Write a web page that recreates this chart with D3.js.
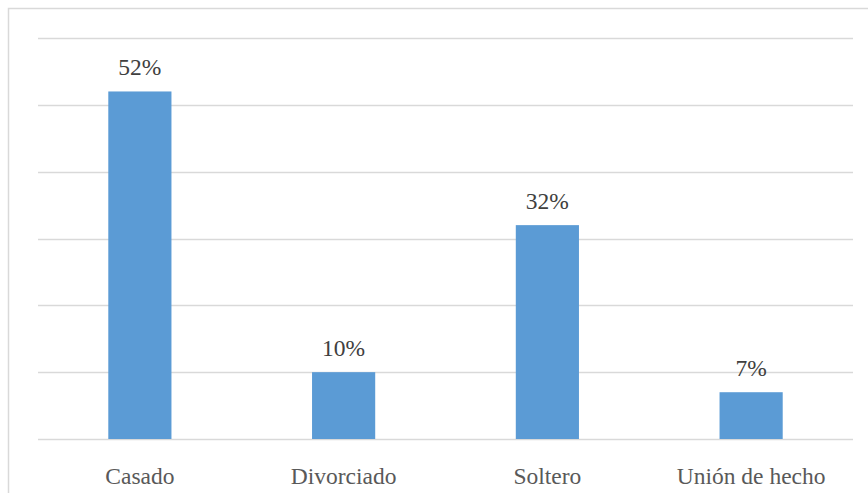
<!DOCTYPE html>
<html>
<head>
<meta charset="utf-8">
<script src="https://cdn.jsdelivr.net/npm/d3@7"></script>
<style>
  html, body { margin: 0; padding: 0; background: #fff; }
  svg { display: block; }
</style>
</head>
<body>
<svg id="chart" width="868" height="493"></svg>
<script>
// Estado civil: porcentaje por categoría
const categories = ["Casado", "Divorciado", "Soltero", "Unión de hecho"];
const values = [52, 10, 32, 7];
const valueLabels = ["52%", "10%", "32%", "7%"];
const gridTicks = [0, 10, 20, 30, 40, 50, 60];

const W = 868, H = 493;
const margin = { left: 38, right: 15, top: 38, bottom: 54 };
const FONT = "Liberation Serif";
const svg = d3.select("#chart");

// Outer chart frame (extends past the window on the right and bottom)
svg.append("rect")
  .attr("x", 8.5).attr("y", 8.5)
  .attr("width", W + 20).attr("height", H + 20)
  .attr("fill", "#fff")
  .attr("stroke", "#d9d9d9").attr("stroke-width", 1.5);

const x = d3.scaleBand()
  .domain(categories)
  .range([margin.left, W - margin.right])
  .paddingInner(0.69).paddingOuter(0.345);

const y = d3.scaleLinear()
  .domain([0, 60])
  .range([H - margin.bottom, margin.top]);

// Horizontal gridlines
svg.append("g")
  .selectAll("line")
  .data(gridTicks)
  .join("line")
  .attr("x1", margin.left).attr("x2", W - margin.right)
  .attr("y1", d => Math.round(y(d)) + 0.5).attr("y2", d => Math.round(y(d)) + 0.5)
  .attr("stroke", "#d9d9d9").attr("stroke-width", 1.5);

// Bars
svg.append("g")
  .selectAll("rect")
  .data(values)
  .join("rect")
  .attr("x", (d, i) => x(categories[i]))
  .attr("y", d => y(d))
  .attr("width", x.bandwidth())
  .attr("height", d => y(0) - y(d))
  .attr("fill", "#5b9bd5");

// Value labels
svg.append("g")
  .selectAll("text")
  .data(values)
  .join("text")
  .attr("x", (d, i) => x(categories[i]) + x.bandwidth() / 2)
  .attr("y", d => y(d) - 16)
  .attr("text-anchor", "middle")
  .style("font-family", FONT)
  .style("font-size", "23.5px")
  .style("fill", "#404040")
  .text((d, i) => valueLabels[i]);

// Category axis labels
const xAxis = d3.axisBottom(x).tickSize(0).tickPadding(0);
const gx = svg.append("g")
  .attr("transform", `translate(0,${y(0)})`)
  .call(xAxis);
gx.select(".domain").remove();
gx.selectAll("text")
  .attr("dy", 0)
  .attr("y", 45)
  .style("font-family", FONT)
  .style("font-size", "23.5px")
  .style("fill", "#595959");
</script>
</body>
</html>
